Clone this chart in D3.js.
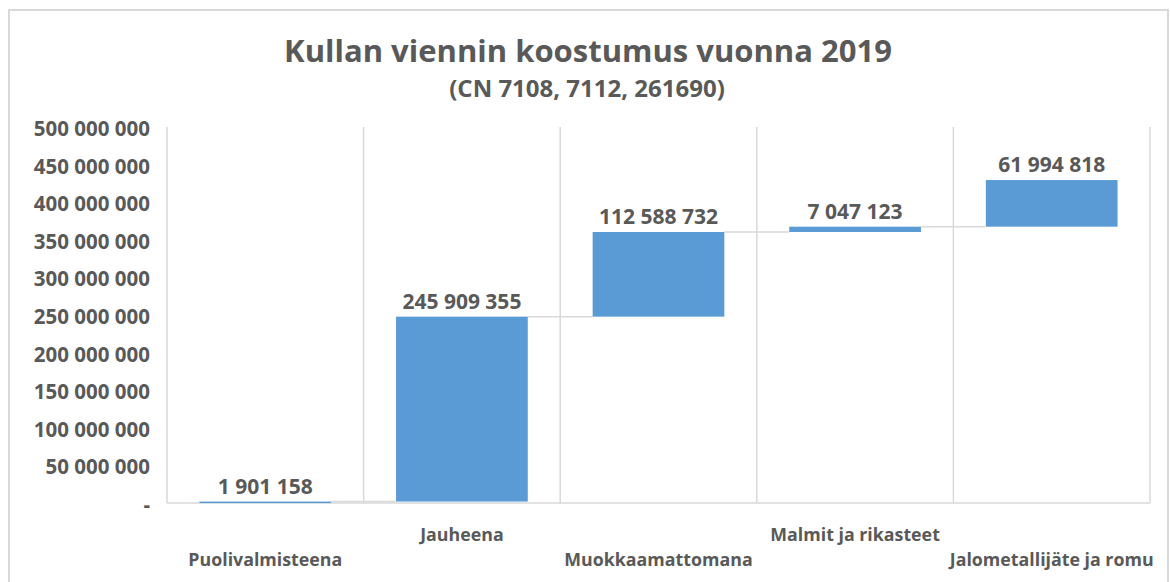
<!DOCTYPE html>
<html>
<head>
<meta charset="utf-8">
<script src="https://cdn.jsdelivr.net/npm/d3@7"></script>
<style>
  body { margin: 0; background: #fff; }
  text { font-family: "Open Sans", sans-serif; font-weight: bold; fill: #595959; }
</style>
</head>
<body>
<div id="chart"></div>
<script>
var categories = ["Puolivalmisteena", "Jauheena", "Muokkaamattomana", "Malmit ja rikasteet", "Jalometallijäte ja romu"];
var values = [1901158, 245909355, 112588732, 7047123, 61994818];
var yTicks = [0, 50000000, 100000000, 150000000, 200000000, 250000000, 300000000, 350000000, 400000000, 450000000, 500000000];
var title = "Kullan viennin koostumus vuonna 2019";
var subtitle = "(CN 7108, 7112, 261690)";

var W = 1170, H = 582;
var margin = {top: 127, right: 20, bottom: 79, left: 167};

var fi = d3.formatLocale({decimal: ",", thousands: " ", grouping: [3], currency: ["", " €"]});
var fmt = fi.format(",");

var svg = d3.select("#chart").append("svg")
  .attr("width", W)
  .attr("height", H);

// chart border
svg.append("rect")
  .attr("x", 9).attr("y", 10)
  .attr("width", 1159).attr("height", 600)
  .attr("fill", "none")
  .attr("stroke", "#d9d9d9")
  .attr("stroke-width", 2);

// running totals for waterfall
var data = [];
var run = 0;
categories.forEach(function(c, i) {
  data.push({name: c, value: values[i], start: run, end: run + values[i]});
  run += values[i];
});

var x = d3.scaleBand()
  .domain(categories)
  .range([margin.left, W - margin.right])
  .paddingInner(0.33)
  .paddingOuter(0.165);

var y = d3.scaleLinear()
  .domain([0, 500000000])
  .range([H - margin.bottom, margin.top]);

var step = x.step();
var bounds = d3.range(categories.length + 1).map(function(i) { return x.range()[0] + i * step; });

// vertical grid lines between categories
svg.append("g").selectAll("line")
  .data(bounds)
  .enter().append("line")
  .attr("x1", function(d) { return d; })
  .attr("x2", function(d) { return d; })
  .attr("y1", y(500000000))
  .attr("y2", y(0))
  .attr("stroke", "#d9d9d9")
  .attr("stroke-width", 1.5);

// bottom axis line
svg.append("line")
  .attr("x1", x.range()[0]).attr("x2", x.range()[1])
  .attr("y1", y(0)).attr("y2", y(0))
  .attr("stroke", "#d9d9d9")
  .attr("stroke-width", 1.5);

// connectors
svg.append("g").selectAll("line")
  .data(data.slice(0, -1))
  .enter().append("line")
  .attr("x1", function(d) { return x(d.name) + x.bandwidth(); })
  .attr("x2", function(d, i) { return x(categories[i + 1]); })
  .attr("y1", function(d) { return y(d.end); })
  .attr("y2", function(d) { return y(d.end); })
  .attr("stroke", "#d9d9d9")
  .attr("stroke-width", 1.5);

// bars
svg.append("g").selectAll("rect")
  .data(data)
  .enter().append("rect")
  .attr("x", function(d) { return x(d.name); })
  .attr("width", x.bandwidth())
  .attr("y", function(d) { return y(d.end); })
  .attr("height", function(d) { return Math.max(1.5, y(d.start) - y(d.end)); })
  .attr("fill", "#5b9bd5");

// value labels
svg.append("g").selectAll("text")
  .data(data)
  .enter().append("text")
  .attr("x", function(d) { return x(d.name) + x.bandwidth() / 2; })
  .attr("y", function(d) { return y(d.end) - 8; })
  .attr("text-anchor", "middle")
  .style("font-size", "21px")
  .text(function(d) { return fmt(d.value); });

// y axis labels
var yAxis = d3.axisLeft(y)
  .tickValues(yTicks)
  .tickSize(0)
  .tickPadding(17)
  .tickFormat(function(d) { return d === 0 ? "-" : fmt(d); });

svg.append("g")
  .attr("transform", "translate(" + margin.left + ",2)")
  .call(yAxis)
  .call(function(g) { g.select(".domain").remove(); })
  .selectAll("text")
  .style("font-size", "20.5px")
  .attr("fill", "#595959");

// x axis labels, staggered
var xAxis = d3.axisBottom(x).tickSize(0);
svg.append("g")
  .attr("transform", "translate(0," + y(0) + ")")
  .call(xAxis)
  .call(function(g) { g.select(".domain").remove(); })
  .selectAll("text")
  .attr("dy", null)
  .attr("y", function(d, i) { return i % 2 === 0 ? 63 : 38; })
  .style("font-size", "17.8px")
  .attr("fill", "#595959");

// titles
svg.append("text")
  .attr("x", 588).attr("y", 62)
  .attr("text-anchor", "middle")
  .style("font-size", "31px")
  .text(title);

svg.append("text")
  .attr("x", 587).attr("y", 97)
  .attr("text-anchor", "middle")
  .style("font-size", "24px")
  .text(subtitle);
</script>
</body>
</html>
